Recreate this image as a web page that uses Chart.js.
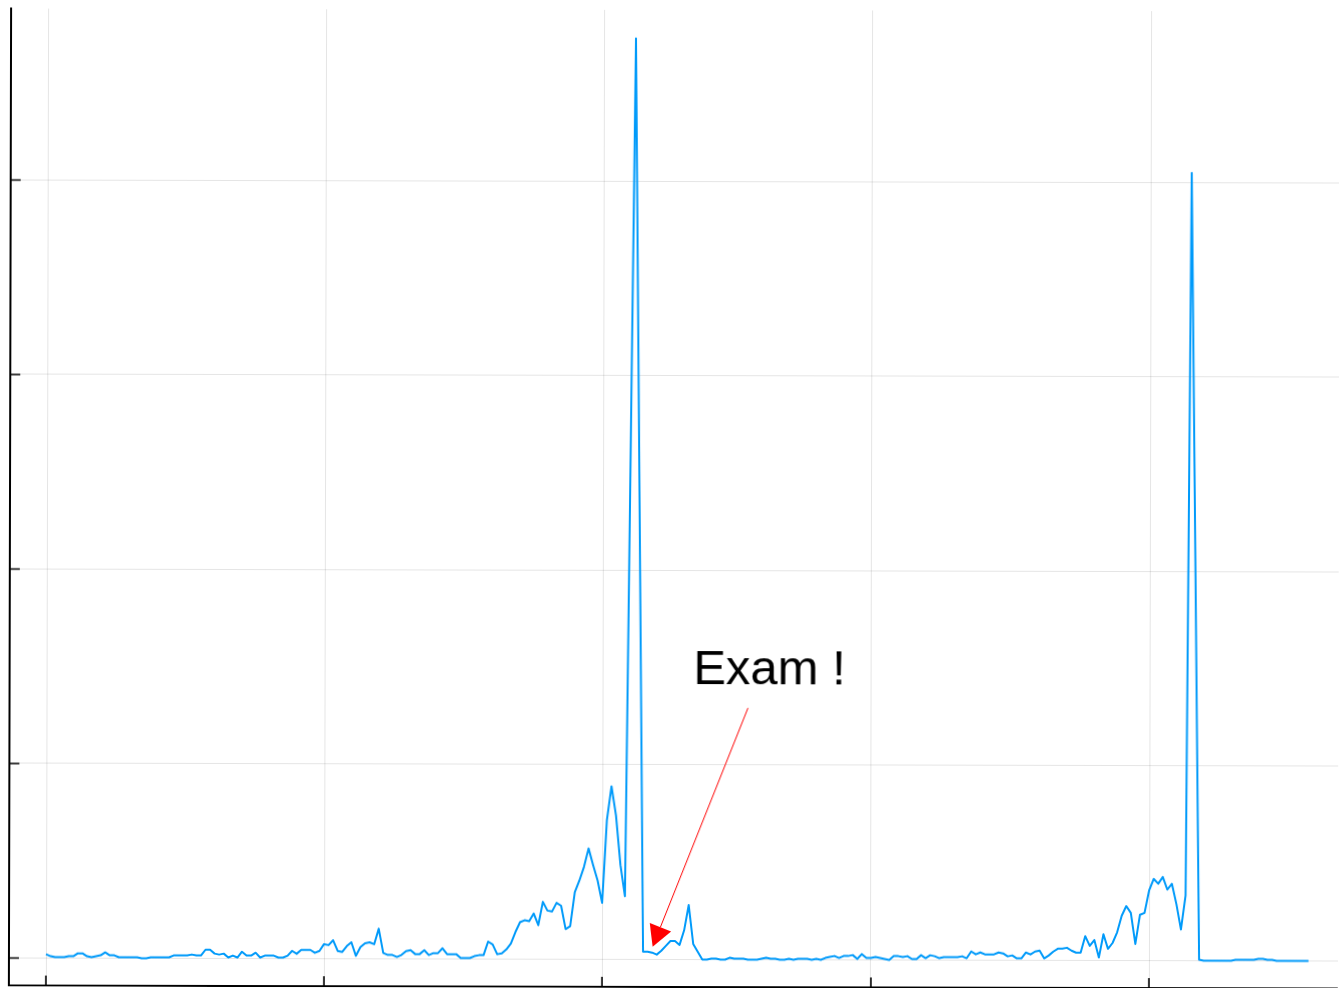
<!DOCTYPE html>
<html>
<head>
<meta charset="utf-8">
<script src="https://cdn.jsdelivr.net/npm/chart.js@4.4.1/dist/chart.umd.min.js"></script>
<style>
  html, body { margin: 0; padding: 0; background: #ffffff; overflow: hidden; }
  #chart-exam {
    display: block;
    /* the original picture is very slightly tilted */
    transform: rotate(0.13deg);
    transform-origin: 50% 50%;
  }
</style>
</head>
<body>
<canvas id="chart-exam" width="1339" height="988"></canvas>
<script>
// Valores por muestra (null = sin dato, la línea los salta)
const sampleValues = [
    4, 2, 1, 1, 1, 2, 2, 5, 5, 2,
    1, 2, 3, 6, 3, 3, 1, 1, 1, 1,
    1, 0, 0, 1, 1, 1, 1, 1, 3, 3,
    3, 3, 4, 3, 3, 9, 9, 5, 4, 5,
    1, 3, 1, 7, 3, 3, 6, 1, 3, 3,
    3, 1, 1, 3, 8, 5, 9, 9, 9, 6,
    8, 15, 14, 19, 8, 7, 13, 17, 3, 12,
    16, 17, 15, 31, 6, 4, 4, 2, 4, 8,
    9, 5, 5, 9, 4, 6, 6, 11, 5, 5,
    5, 1, 1, 1, 3, 4, 4, 18, 15, 5,
    6, 10, 16, 28, 38, 40, 39, 47, 35, 59,
    50, 49, 58, 55, 31, 34, 69, 81, 95, 114,
    97, 81, 58, 143, 178, 148, 97, 65, null, 947,
    null, 8, 8, 7, 5, 9, 14, 19, 19, 15,
    30, 56, 16, 8, 0, 0, 1, 1, 0, 0,
    2, 1, 1, 1, 0, 0, 0, 1, 2, 1,
    1, 0, 0, 1, 0, 1, 1, 1, 0, 1,
    0, 2, 3, 4, 2, 4, 4, 5, 1, 6,
    2, 2, 3, 2, 1, 0, 4, 4, 3, 4,
    1, 1, 5, 2, 5, 4, 2, 3, 3, 3,
    3, 4, 2, 9, 6, 8, 6, 6, 6, 8,
    7, 4, 5, 2, 2, 8, 6, 9, 10, 2,
    5, 9, 12, 12, 13, 10, 8, 8, 25, 15,
    21, 3, 27, 12, 18, 29, 46, 56, 49, 17,
    47, 49, 72, 84, 79, 86, 73, 79, 58, 32,
    67, 810, null, 1, 0, 0, 0, 0, 0, 0,
    0, 1, 1, 1, 1, 1, 2, 2, 1, 1,
    0, 0, 0, 0, 0, 0, 0, 0
];

// Posiciones de las marcas (sin etiquetas en el original)
const xTickPositions = [0, 61, 122, 181, 242];
const yTickValues = [0, 200, 400, 600, 800];

// Anotación "Exam !" en coordenadas de datos
const examLabel = 'Exam !';
const examTextAt = { x: 158.6, y: 283.5 };
const examArrowFrom = { x: 153.9, y: 258.8 };
const examArrowTo = { x: 133.1, y: 13.2 };

const points = sampleValues.map((v, i) => ({ x: i, y: v }));

// Marcas hacia dentro + flecha y texto
const examPlugin = {
    id: 'examPlugin',
    afterDraw(chart) {
        const ctx = chart.ctx;
        const area = chart.chartArea;
        const xs = chart.scales.x;
        const ys = chart.scales.y;

        ctx.save();
        ctx.strokeStyle = '#000000';
        ctx.lineWidth = 1.6;
        ctx.beginPath();
        yTickValues.forEach(v => {
            const py = ys.getPixelForValue(v);
            ctx.moveTo(area.left, py);
            ctx.lineTo(area.left + 10, py);
        });
        xTickPositions.forEach(v => {
            const px = xs.getPixelForValue(v);
            ctx.moveTo(px, area.bottom);
            ctx.lineTo(px, area.bottom - 10);
        });
        ctx.stroke();

        // Flecha roja
        const x1 = xs.getPixelForValue(examArrowFrom.x);
        const y1 = ys.getPixelForValue(examArrowFrom.y);
        const x2 = xs.getPixelForValue(examArrowTo.x);
        const y2 = ys.getPixelForValue(examArrowTo.y);
        const len = Math.hypot(x2 - x1, y2 - y1);
        const ux = (x2 - x1) / len;
        const uy = (y2 - y1) / len;
        const headLen = 21;
        const headHalf = 11.5;
        const bx = x2 - ux * headLen;
        const by = y2 - uy * headLen;

        ctx.strokeStyle = '#ff0000';
        ctx.lineWidth = 1;
        ctx.beginPath();
        ctx.moveTo(x1, y1);
        ctx.lineTo(bx, by);
        ctx.stroke();

        ctx.fillStyle = '#ff0000';
        ctx.beginPath();
        ctx.moveTo(x2, y2);
        ctx.lineTo(bx - uy * headHalf, by + ux * headHalf);
        ctx.lineTo(bx + uy * headHalf, by - ux * headHalf);
        ctx.closePath();
        ctx.fill();

        // Texto
        ctx.fillStyle = '#000000';
        ctx.font = '49px "Liberation Sans", Arial, sans-serif';
        ctx.textAlign = 'center';
        ctx.textBaseline = 'alphabetic';
        ctx.fillText(examLabel, xs.getPixelForValue(examTextAt.x), ys.getPixelForValue(examTextAt.y));
        ctx.restore();
    }
};

const ctxExam = document.getElementById('chart-exam').getContext('2d');
new Chart(ctxExam, {
    type: 'line',
    data: {
        datasets: [{
            data: points,
            borderColor: '#009afa',
            borderWidth: 2,
            borderJoinStyle: 'round',
            pointRadius: 0,
            tension: 0,
            spanGaps: true,
            fill: false
        }]
    },
    options: {
        responsive: false,
        animation: false,
        devicePixelRatio: 1,
        layout: {
            autoPadding: false,
            padding: { left: 10, top: 10, right: 0, bottom: 1 }
        },
        plugins: {
            legend: { display: false },
            tooltip: { enabled: false }
        },
        scales: {
            x: {
                type: 'linear',
                min: -8.12,
                max: 283.46,
                afterBuildTicks: scale => {
                    scale.ticks = xTickPositions.map(v => ({ value: v }));
                },
                ticks: { display: false },
                grid: { color: 'rgba(0,0,0,0.1)', lineWidth: 1, drawTicks: false },
                border: { display: true, color: '#000000', width: 2 }
            },
            y: {
                type: 'linear',
                min: -28.28,
                max: 976.35,
                afterBuildTicks: scale => {
                    scale.ticks = yTickValues.map(v => ({ value: v }));
                },
                ticks: { display: false },
                grid: { color: 'rgba(0,0,0,0.1)', lineWidth: 1, drawTicks: false },
                border: { display: true, color: '#000000', width: 2 }
            }
        }
    },
    plugins: [examPlugin]
});
</script>
</body>
</html>
